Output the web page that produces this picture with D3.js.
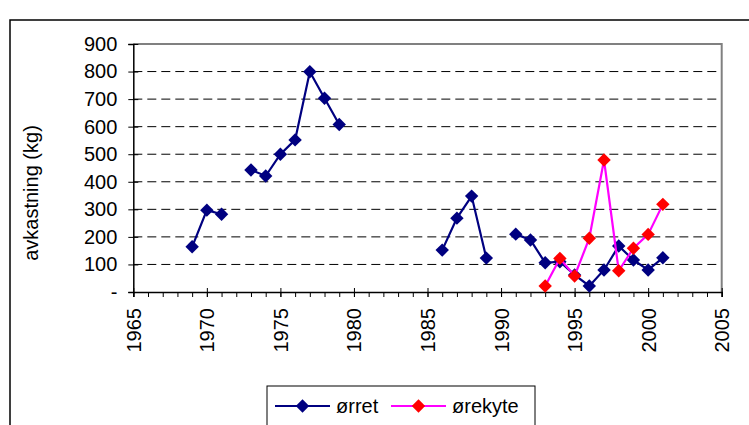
<!DOCTYPE html>
<html>
<head>
<meta charset="utf-8">
<script src="https://cdn.jsdelivr.net/npm/d3@7"></script>
<style>
  body { margin: 0; background: #fff; }
  text { font-family: "Liberation Sans", Arial, sans-serif; fill: #000; }
</style>
</head>
<body>
<div id="chart"></div>
<script>
// ørret (trout) catch, gaps where no data
var orretYears  = [1969, 1970, 1971, 1972, 1973, 1974, 1975, 1976, 1977, 1978, 1979, 1980,
                   1986, 1987, 1988, 1989, 1990, 1991, 1992, 1993, 1994, 1995, 1996, 1997,
                   1998, 1999, 2000, 2001];
var orretValues = [164, 297, 282, null, 443, 421, 500, 552, 799, 703, 608, null,
                   152, 268, 348, 123, null, 210, 189, 106, 110, 62, 22, 80,
                   167, 116, 80, 124];

// ørekyte (minnow)
var orekyteYears  = [1993, 1994, 1995, 1996, 1997, 1998, 1999, 2000, 2001];
var orekyteValues = [22, 122, 58, 195, 479, 77, 159, 209, 318];

var xTicks = [1965, 1970, 1975, 1980, 1985, 1990, 1995, 2000, 2005];
var yTicks = [0, 100, 200, 300, 400, 500, 600, 700, 800, 900];

var width = 749, height = 425;
var plotLeft = 133.3, plotRight = 721.7, plotTop = 44, plotBottom = 292;

var svg = d3.select("#chart").append("svg")
    .attr("width", width)
    .attr("height", height);

// outer chart frame
svg.append("path")
    .attr("d", "M10,430 L10,20 L760,20")
    .attr("fill", "none")
    .attr("stroke", "#000")
    .attr("stroke-width", 1.5);

var x = d3.scaleLinear().domain([1965, 2005]).range([plotLeft, plotRight]);
var y = d3.scaleLinear().domain([0, 900]).range([plotBottom, plotTop]);

// dashed gridlines
svg.selectAll(".grid")
    .data(yTicks.filter(function(d) { return d > 0 && d < 900; }))
    .enter().append("line")
    .attr("x1", plotLeft).attr("x2", plotRight)
    .attr("y1", function(d) { return y(d); })
    .attr("y2", function(d) { return y(d); })
    .attr("stroke", "#000")
    .attr("stroke-width", 1)
    .attr("stroke-dasharray", "9,5");

// plot area border (top + right)
svg.append("path")
    .attr("d", "M" + plotLeft + "," + plotTop + " L" + plotRight + "," + plotTop + " L" + plotRight + "," + plotBottom)
    .attr("fill", "none")
    .attr("stroke", "#808080")
    .attr("stroke-width", 2);

// y axis
var yAxis = svg.append("g").attr("transform", "translate(" + plotLeft + ",0)")
    .call(d3.axisLeft(y).tickValues(yTicks).tickSize(5)
        .tickFormat(function(d) { return d === 0 ? "-" : d; }));
yAxis.select(".domain").attr("stroke", "#000").attr("stroke-width", 1.5);
yAxis.selectAll(".tick line").attr("x2", 5).attr("x1", -5).attr("stroke", "#000");
yAxis.selectAll(".tick text")
    .attr("x", -16)
    .style("font-size", "20px")
    .style("font-family", "'Liberation Sans', Arial, sans-serif");

// x axis, minor ticks each year
var xAxisG = svg.append("g").attr("transform", "translate(0," + plotBottom + ")");
xAxisG.call(d3.axisBottom(x).tickValues(d3.range(1965, 2006)).tickSize(5).tickFormat(""));
xAxisG.select(".domain").attr("stroke", "#000").attr("stroke-width", 1.5);
xAxisG.selectAll(".tick line").attr("stroke", "#000");

var xMajor = svg.append("g").attr("transform", "translate(0," + plotBottom + ")")
    .call(d3.axisBottom(x).tickValues(xTicks).tickSize(5).tickFormat(d3.format("d")));
xMajor.select(".domain").remove();
xMajor.selectAll(".tick line").attr("y1", -4).attr("stroke", "#000");
xMajor.selectAll(".tick text")
    .attr("transform", "rotate(-90)")
    .attr("x", -16)
    .attr("y", 0)
    .attr("dy", "0.35em")
    .style("text-anchor", "end")
    .style("font-size", "20px")
    .style("font-family", "'Liberation Sans', Arial, sans-serif");

// y axis title
svg.append("text")
    .attr("transform", "translate(38,193) rotate(-90)")
    .attr("text-anchor", "middle")
    .style("font-size", "20px")
    .text("avkastning (kg)");

var diamond = d3.symbol().type(d3.symbolSquare).size(90);

function drawSeries(years, values, lineColor, markColor) {
    var pts = years.map(function(yr, i) { return { year: yr, value: values[i] }; });
    var line = d3.line()
        .defined(function(d) { return d.value !== null; })
        .x(function(d) { return x(d.year); })
        .y(function(d) { return y(d.value); });
    svg.append("path")
        .datum(pts)
        .attr("d", line)
        .attr("fill", "none")
        .attr("stroke", lineColor)
        .attr("stroke-width", 2.2);
    svg.selectAll(null)
        .data(pts.filter(function(d) { return d.value !== null; }))
        .enter().append("path")
        .attr("d", diamond)
        .attr("transform", function(d) {
            return "translate(" + x(d.year) + "," + y(d.value) + ") rotate(45)";
        })
        .attr("fill", markColor);
}

drawSeries(orretYears, orretValues, "#000080", "#000080");
drawSeries(orekyteYears, orekyteValues, "#ff00ff", "#ff0000");

// legend
var legend = svg.append("g");
legend.append("rect")
    .attr("x", 267).attr("y", 386)
    .attr("width", 268).attr("height", 60)
    .attr("fill", "#fff")
    .attr("stroke", "#000")
    .attr("stroke-width", 1);

var legendItems = [
    { name: "ørret", line: "#000080", mark: "#000080", x0: 275 },
    { name: "ørekyte", line: "#ff00ff", mark: "#ff0000", x0: 391 }
];
legendItems.forEach(function(d) {
    legend.append("line")
        .attr("x1", d.x0).attr("x2", d.x0 + 55)
        .attr("y1", 406).attr("y2", 406)
        .attr("stroke", d.line).attr("stroke-width", 2.2);
    legend.append("path")
        .attr("d", diamond)
        .attr("transform", "translate(" + (d.x0 + 27.5) + ",406) rotate(45)")
        .attr("fill", d.mark);
    legend.append("text")
        .attr("x", d.x0 + 61)
        .attr("y", 406)
        .attr("dy", "0.36em")
        .style("font-size", "20px")
        .text(d.name);
});
</script>
</body>
</html>
